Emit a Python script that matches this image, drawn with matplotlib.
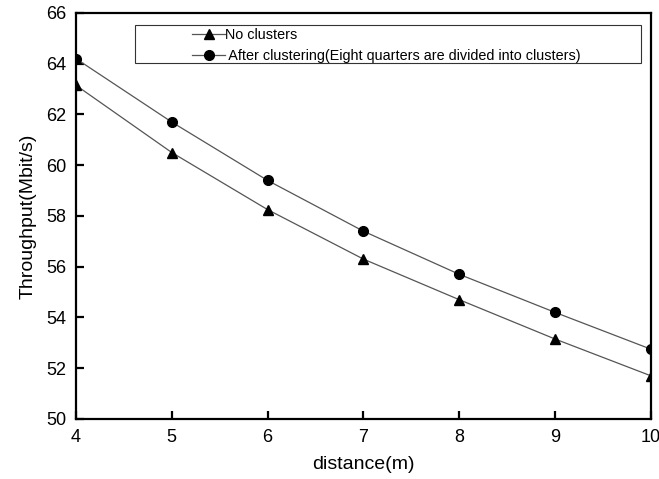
import matplotlib
matplotlib.use('Agg')
import matplotlib.pyplot as plt
from matplotlib.patches import Rectangle

# values
distance = [4, 5, 6, 7, 8, 9, 10]
no_clusters = [63.15, 60.5, 58.25, 56.3, 54.7, 53.15, 51.7]
after_clustering = [64.2, 61.7, 59.4, 57.4, 55.7, 54.2, 52.75]

labels = ["No clusters", " After clustering(Eight quarters are divided into clusters)"]

plt.rcParams['font.family'] = ['Liberation Sans', 'DejaVu Sans']

fig = plt.figure(figsize=(6.59, 4.79), dpi=100)
ax = fig.add_axes([0.1153, 0.1253, 0.8725, 0.8476])

line_kw = dict(color="#555555", linewidth=0.9, markerfacecolor="black",
               markeredgecolor="black")
ax.plot(distance, no_clusters, marker="^", markersize=7.5, label=labels[0], **line_kw)
ax.plot(distance, after_clustering, marker="o", markersize=7, label=labels[1], **line_kw)

ax.set_xlim(4, 10)
ax.set_ylim(50, 66)
ax.set_xticks(range(4, 11))
ax.set_yticks(range(50, 67, 2))

for side in ["left", "bottom", "top", "right"]:
    ax.spines[side].set_linewidth(1.6)
ax.tick_params(direction="in", length=6, width=1.6, labelsize=13,
               top=False, right=False)
ax.tick_params(axis="y", pad=7)
ax.tick_params(axis="x", pad=7.5)

ax.set_xlabel("distance(m)", fontsize=14, labelpad=7)
ax.set_ylabel("Throughput(Mbit/s)", fontsize=14, labelpad=7)

# legend box drawn separately, entries sit towards the left inside it
ax.add_patch(Rectangle((0.103, 0.877), 0.880, 0.093, transform=ax.transAxes,
                       fill=False, edgecolor="#333333", linewidth=0.8, zorder=3))
leg = ax.legend(loc="upper left", bbox_to_anchor=(0.2017, 0.962), frameon=False,
                fontsize=10.4, handlelength=2.3, handletextpad=0.0,
                labelspacing=0.45, borderpad=0, borderaxespad=0)

plt.savefig("out.png", dpi=100)
plt.close()
